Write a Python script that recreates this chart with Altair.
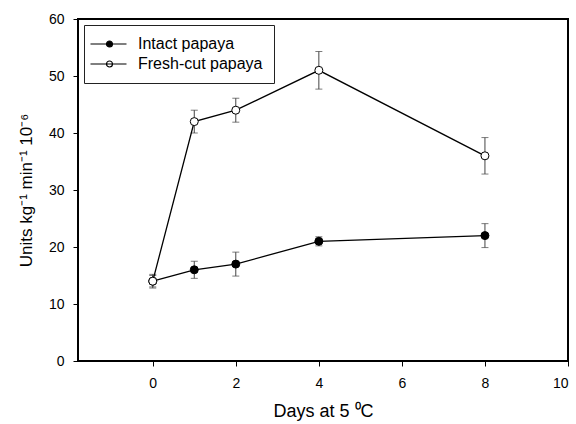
import altair as alt
import pandas as pd

days = [0, 1, 2, 4, 8]
intact = [14, 16, 17, 21, 22]
intact_err = [1.0, 1.5, 2.1, 0.8, 2.1]
fresh = [14, 42, 44, 51, 36]
fresh_err = [1.2, 2.0, 2.1, 3.3, 3.2]
series = ["Intact papaya", "Fresh-cut papaya"]
x_ticks = [0, 2, 4, 6, 8, 10]
y_ticks = [0, 10, 20, 30, 40, 50, 60]

rows = []
for name, vals, errs in [(series[0], intact, intact_err), (series[1], fresh, fresh_err)]:
    for d, v, e in zip(days, vals, errs):
        rows.append({"day": d, "value": v, "lo": v - e, "hi": v + e, "series": name})
df = pd.DataFrame(rows)

FONT = "Liberation Sans"

x = alt.X("day:Q", scale=alt.Scale(domain=[-1.8, 10], nice=False, zero=False),
          axis=alt.Axis(values=x_ticks, title="Days at 5 \u2070C", titlePadding=12,
                        labelPadding=10, titleFontSize=18))
y = alt.Y("value:Q", scale=alt.Scale(domain=[0, 60], nice=False),
          axis=alt.Axis(values=y_ticks, title="Units kg\u207b\u00b9 min\u207b\u00b9 10\u207b\u2076",
                        titlePadding=13, labelPadding=9))
y_lo = alt.Y("lo:Q", scale=alt.Scale(domain=[0, 60], nice=False))

base = alt.Chart(df)

err_rule = base.mark_rule(color="#444", strokeWidth=1).encode(
    x=x, y=y_lo, y2="hi:Q", detail="series:N")
cap_lo = base.mark_tick(color="#444", thickness=1, size=7, orient="horizontal").encode(
    x=x, y=y_lo)
cap_hi = base.mark_tick(color="#444", thickness=1, size=7, orient="horizontal").encode(
    x=x, y=alt.Y("hi:Q", scale=alt.Scale(domain=[0, 60], nice=False)))

lines = base.mark_line(color="black", strokeWidth=1.3).encode(
    x=x, y=y, detail="series:N", order="day:Q")

# legend glyph: a short line with a circle on it (unit = 4 px)
symbol_path = ("M-3.125,0L5.875,0"
               "M0.875,0A0.75,0.75,0,1,0,2.375,0A0.75,0.75,0,1,0,0.875,0Z")

points = base.mark_point(filled=True, stroke="black", strokeWidth=1, size=64,
                         shape="circle", opacity=1).encode(
    x=x, y=y,
    fill=alt.Fill("series:N",
                  scale=alt.Scale(domain=series, range=["black", "white"]),
                  legend=alt.Legend(title=None, orient="top-left", offset=6,
                                    symbolType=symbol_path, symbolSize=64,
                                    symbolStrokeColor="black", symbolStrokeWidth=1.2,
                                    symbolOpacity=1,
                                    labelOffset=27, labelFontSize=16, labelFont=FONT,
                                    labelColor="black",
                                    padding=11, rowPadding=4,
                                    strokeColor="#222", fillColor="white")),
    order=alt.Order("ord:Q"),
).transform_calculate(ord="datum.series == 'Intact papaya' ? 0 : 1")

chart = alt.layer(err_rule, cap_lo, cap_hi, lines, points).properties(
    width=490, height=342,
    autosize=alt.AutoSizeParams(type="none"),
    padding={"left": 78, "top": 19, "right": 8, "bottom": 63},
).configure_view(stroke="black", strokeWidth=2).configure_axis(
    grid=False, domain=False, tickColor="black", tickSize=5, tickWidth=1,
    labelFont=FONT, labelFontSize=14, labelColor="black",
    titleFont=FONT, titleFontSize=17, titleFontWeight="normal", titleColor="black",
)

chart.save("out.html", embed_options={"renderer": "svg", "actions": False})
